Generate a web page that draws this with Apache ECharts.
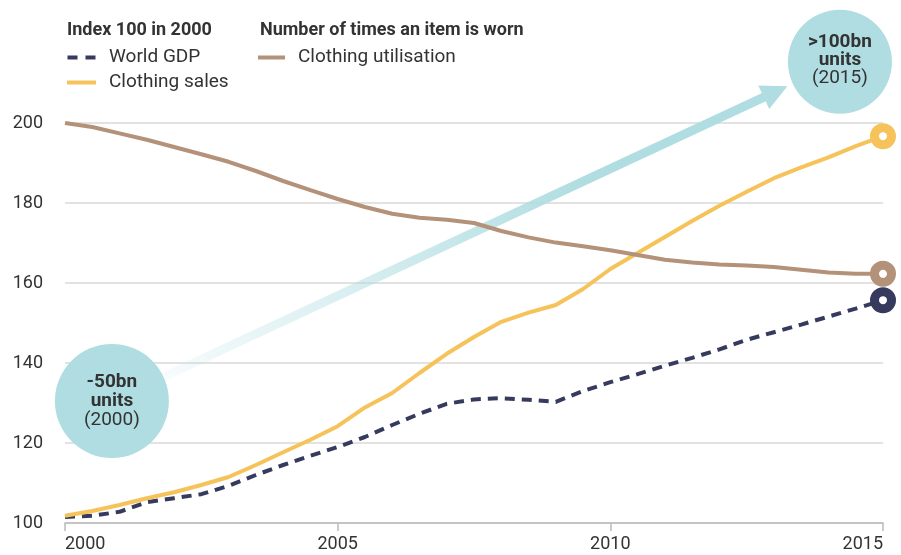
<!DOCTYPE html>
<html>
<head>
<meta charset="utf-8">
<title>Clothing utilisation</title>
<script src="https://cdn.jsdelivr.net/npm/echarts@6.0.0/dist/echarts.min.js"></script>
<style>
html,body{margin:0;padding:0;background:#fff}
#chart{width:901px;height:555px}
</style>
</head>
<body>
<div id="chart"></div>
<script>
// half-year steps, 2000 -> 2015
var years = [2000, 2000.5, 2001, 2001.5, 2002, 2002.5, 2003, 2003.5, 2004, 2004.5,
             2005, 2005.5, 2006, 2006.5, 2007, 2007.5, 2008, 2008.5, 2009, 2009.5,
             2010, 2010.5, 2011, 2011.5, 2012, 2012.5, 2013, 2013.5, 2014, 2014.5, 2015];
var worldGdp = [101.5, 101.8, 102.8, 105.2, 106.2, 107.2, 109.3, 112, 114.5, 116.8,
                119, 121.5, 124.5, 127.3, 129.8, 130.9, 131.2, 130.8, 130.3, 133,
                135.2, 137.2, 139.3, 141.3, 143.4, 145.8, 147.7, 149.6, 151.6, 153.6, 155.7];
var clothingSales = [101.8, 103, 104.5, 106.2, 107.7, 109.5, 111.5, 114.5, 117.7, 120.8,
                     124.2, 128.9, 132.5, 137.5, 142.3, 146.5, 150.3, 152.6, 154.5, 158.5,
                     163.5, 167.5, 171.5, 175.5, 179.3, 182.8, 186.2, 188.9, 191.4, 194.2, 196.7];
var utilisation = [200, 199, 197.4, 195.8, 194, 192.2, 190.3, 188, 185.5, 183.2,
                   181, 179, 177.3, 176.3, 175.8, 175, 173, 171.4, 170.1, 169.2,
                   168.2, 167, 165.8, 165.1, 164.6, 164.4, 164, 163.3, 162.6, 162.3, 162.3];
var xTicks = [2000, 2005, 2010, 2015];
var yTicks = [100, 120, 140, 160, 180, 200];

var bubbleLeftText = ['-50bn', 'units', '(2000)'];
var bubbleRightText = ['>100bn', 'units', '(2015)'];

var C_GDP = '#363b5e', C_SALES = '#f5c35a', C_UTIL = '#b39279', C_TEAL = '#b0dde1';
var FONT = 'Roboto';
var DASH_ICON = 'path://M0,0h10v4h-10zM18,0h10v4h-10z';

function pairs(ys){
  return years.map(function(x, i){ return [x, ys[i]]; });
}
function last(ys){ return [[years[years.length - 1], ys[ys.length - 1]]]; }
function endMark(color, ys){
  return {
    type: 'scatter', data: last(ys), symbol: 'circle', symbolSize: 17, z: 5,
    itemStyle: {color: '#fff', borderColor: color, borderWidth: 9, opacity: 1},
    silent: true
  };
}

var chart = echarts.init(document.getElementById('chart'));
var legendText = {fontSize: 19, color: '#333', fontFamily: FONT, padding: [0, 0, 0, 8]};
var option = {
  animation: false,
  textStyle: {fontFamily: FONT},
  title: [
    {text: 'Index 100 in 2000', left: 67, top: 21, padding: 0,
     textStyle: {fontSize: 18, fontWeight: 'bold', color: '#333', fontFamily: FONT}},
    {text: 'Number of times an item is worn', left: 260, top: 21, padding: 0,
     textStyle: {fontSize: 18, fontWeight: 'bold', color: '#333', fontFamily: FONT}}
  ],
  legend: [
    {data: [{name: 'World GDP', icon: DASH_ICON}, {name: 'Clothing sales', icon: 'rect'}],
     orient: 'vertical', left: 67, top: 48, padding: 0,
     itemWidth: 29, itemHeight: 4, itemGap: 6, selectedMode: false,
     textStyle: legendText},
    {data: [{name: 'Clothing utilisation', icon: 'rect'}], left: 258, top: 48, padding: 0,
     itemWidth: 27, itemHeight: 4, selectedMode: false,
     textStyle: legendText}
  ],
  grid: {left: 65, right: 18, top: 123, bottom: 32},
  xAxis: {
    type: 'value', min: xTicks[0], max: xTicks[xTicks.length - 1], interval: xTicks[1] - xTicks[0],
    axisLine: {lineStyle: {color: '#bbb', width: 1.5}},
    axisTick: {show: true, length: 8, lineStyle: {color: '#bbb', width: 1.5}},
    splitLine: {show: false},
    axisLabel: {color: '#333', fontSize: 18, margin: 12, fontFamily: FONT,
                alignMinLabel: 'left', alignMaxLabel: 'right',
                formatter: function(v){ return String(v); }}
  },
  yAxis: {
    type: 'value', min: yTicks[0], max: yTicks[yTicks.length - 1], interval: yTicks[1] - yTicks[0],
    axisLine: {show: false}, axisTick: {show: false},
    splitLine: {lineStyle: {color: '#d9d9d9', width: 1.5}},
    axisLabel: {color: '#333', fontSize: 18, margin: 22, fontFamily: FONT}
  },
  series: [
    {name: 'World GDP', type: 'line', data: pairs(worldGdp), symbol: 'none', z: 3,
     color: C_GDP, lineStyle: {color: C_GDP, width: 4, type: [10, 7]}},
    {name: 'Clothing sales', type: 'line', data: pairs(clothingSales), symbol: 'none', z: 3,
     color: C_SALES, lineStyle: {color: C_SALES, width: 4}},
    {name: 'Clothing utilisation', type: 'line', data: pairs(utilisation), symbol: 'none', z: 3,
     color: C_UTIL, lineStyle: {color: C_UTIL, width: 4}},
    endMark(C_GDP, worldGdp),
    endMark(C_UTIL, utilisation),
    endMark(C_SALES, clothingSales)
  ]
};
chart.setOption(option);

// bubbles + arrow, anchored in data coordinates
var leftAt = chart.convertToPixel({gridIndex: 0}, [2000.86, 130.5]);
var rightAt = chart.convertToPixel({gridIndex: 0}, [2014.21, 215.3]);
var R1 = 57, R2 = 52;
var dx = rightAt[0] - leftAt[0], dy = rightAt[1] - leftAt[1];
var len = Math.sqrt(dx * dx + dy * dy), ux = dx / len, uy = dy / len;
var tip = [rightAt[0] - ux * (R2 + 6), rightAt[1] - uy * (R2 + 6)];
var headLen = 26, headHalf = 13;
var base = [tip[0] - ux * headLen, tip[1] - uy * headLen];
var head = [tip, [base[0] - uy * headHalf, base[1] + ux * headHalf], [base[0] + uy * headHalf, base[1] - ux * headHalf]];

function rgba(a){ return 'rgba(176,221,225,' + a + ')'; }
var grad = new echarts.graphic.LinearGradient(leftAt[0], leftAt[1], tip[0], tip[1], [
  {offset: 0, color: rgba(0)}, {offset: 0.08, color: rgba(0.1)},
  {offset: 0.33, color: rgba(0.45)}, {offset: 0.7, color: rgba(1)}, {offset: 1, color: rgba(1)}
], true);

function bubbleText(center, lines, offs){
  return lines.map(function(t, i){
    return {
      type: 'text', z: 2, x: center[0], y: center[1] + offs[i],
      style: {text: t, fill: '#333', align: 'center', verticalAlign: 'middle',
              font: (i < 2 ? 'bold ' : '') + '19px ' + FONT}
    };
  });
}

var elements = [
  {type: 'line', z: 1, shape: {x1: leftAt[0], y1: leftAt[1], x2: base[0] + ux * 2, y2: base[1] + uy * 2},
   style: {stroke: grad, lineWidth: 9}},
  {type: 'polygon', z: 1, shape: {points: head}, style: {fill: C_TEAL}},
  {type: 'circle', z: 1, shape: {cx: leftAt[0], cy: leftAt[1], r: R1}, style: {fill: C_TEAL}},
  {type: 'circle', z: 1, shape: {cx: rightAt[0], cy: rightAt[1], r: R2}, style: {fill: C_TEAL}}
].concat(bubbleText(leftAt, bubbleLeftText, [-19, 0, 19]))
 .concat(bubbleText(rightAt, bubbleRightText, [-20, -2, 16]));

chart.setOption({graphic: {elements: elements}});
</script>
</body>
</html>
